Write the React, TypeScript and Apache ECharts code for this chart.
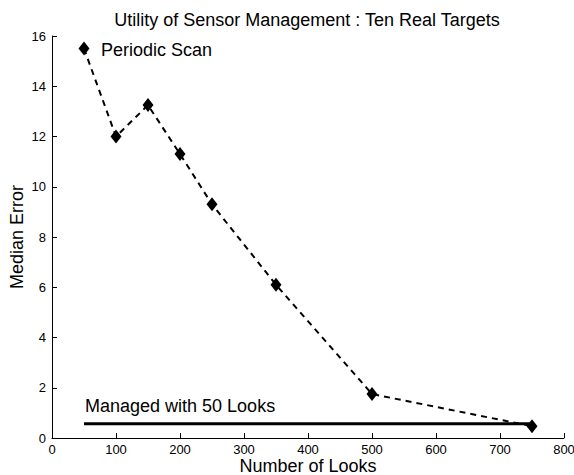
import React, { useEffect, useRef } from "react";
import * as echarts from "echarts";

const looks = [50, 100, 150, 200, 250, 350, 500, 750];
const periodicError = [15.5, 12.0, 13.25, 11.3, 9.3, 6.1, 1.75, 0.47];
const managedLooks = [50, 750];
const managedError = [0.57, 0.57];
const xTicks = { min: 0, max: 800, interval: 100 };
const yTicks = { min: 0, max: 16, interval: 2 };

const FONT = "'Liberation Sans', Arial, Helvetica, sans-serif";

export default function App() {
  const ref = useRef<HTMLDivElement>(null);
  useEffect(() => {
    if (!ref.current) return;
    const chart = echarts.init(ref.current, undefined, { renderer: "svg" });
    chart.setOption({
      animation: false,
      backgroundColor: "#ffffff",
      textStyle: { fontFamily: FONT },
      grid: {
        left: 52,
        right: 10,
        top: 36,
        bottom: 37,
        containLabel: false,
        outerBoundsMode: "none",
      },
      xAxis: {
        type: "value",
        min: xTicks.min,
        max: xTicks.max,
        interval: xTicks.interval,
        name: "Number of Looks",
        nameLocation: "middle",
        nameGap: 19,
        nameMoveOverlap: false,
        nameTextStyle: { color: "#000", fontSize: 18, fontFamily: FONT, lineHeight: 18 },
        axisLine: { onZero: false, lineStyle: { color: "#000", width: 1 } },
        axisTick: { inside: true, length: 5, lineStyle: { color: "#000" } },
        axisLabel: { color: "#000", fontSize: 13, lineHeight: 13, margin: 5, fontFamily: FONT, hideOverlap: false },
        splitLine: { show: false },
      },
      yAxis: {
        type: "value",
        min: yTicks.min,
        max: yTicks.max,
        interval: yTicks.interval,
        name: "Median Error",
        nameLocation: "middle",
        nameGap: 26,
        nameMoveOverlap: false,
        nameTextStyle: { color: "#000", fontSize: 18, fontFamily: FONT },
        axisLine: { show: true, onZero: false, lineStyle: { color: "#000", width: 1 } },
        axisTick: { show: true, inside: true, length: 5, lineStyle: { color: "#000" } },
        axisLabel: { color: "#000", fontSize: 13, margin: 6, fontFamily: FONT },
        splitLine: { show: false },
      },
      series: [
        {
          name: "Periodic Scan",
          type: "line",
          data: looks.map((x, i) => [x, periodicError[i]]),
          symbol: "diamond",
          symbolSize: [11, 14],
          itemStyle: { color: "#000" },
          lineStyle: { color: "#000", width: 2, type: [6, 5] },
          z: 3,
        },
        {
          name: "Managed with 50 Looks",
          type: "line",
          data: managedLooks.map((x, i) => [x, managedError[i]]),
          symbol: "none",
          lineStyle: { color: "#000", width: 3, type: "solid" },
          z: 2,
        },
      ],
      graphic: [
        {
          type: "text",
          x: 307,
          y: 20,
          style: {
            text: "Utility of Sensor Management : Ten Real Targets",
            align: "center",
            verticalAlign: "middle",
            fill: "#000",
            font: `18px ${FONT}`,
          },
        },
        {
          type: "text",
          x: 101,
          y: 50,
          style: {
            text: "Periodic Scan",
            align: "left",
            verticalAlign: "middle",
            fill: "#000",
            font: `18px ${FONT}`,
          },
        },
        {
          type: "text",
          x: 85,
          y: 406,
          style: {
            text: "Managed with 50 Looks",
            align: "left",
            verticalAlign: "middle",
            fill: "#000",
            font: `18px ${FONT}`,
          },
        },
      ],
    });
    return () => chart.dispose();
  }, []);
  return (
    <div
      ref={ref}
      style={{ position: "fixed", left: 0, top: 0, width: 574, height: 475 }}
    />
  );
}
